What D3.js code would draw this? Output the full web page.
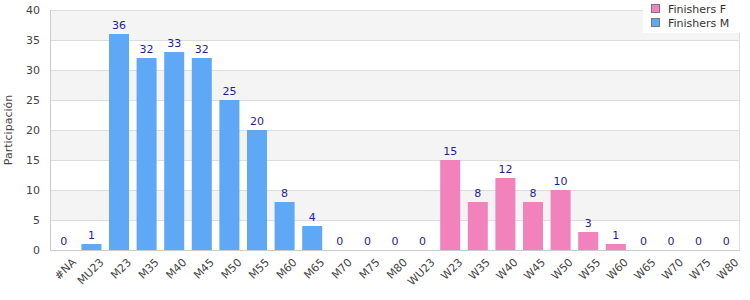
<!DOCTYPE html>
<html>
<head>
<meta charset="utf-8">
<script src="https://cdn.jsdelivr.net/npm/d3@7"></script>
<style>
  body { margin: 0; background: #fff; }
  svg text { font-family: "DejaVu Sans", Verdana, sans-serif; }
</style>
</head>
<body>
<svg id="chart" width="750" height="300"></svg>
<script>
const categories = ["#NA","MU23","M23","M35","M40","M45","M50","M55","M60","M65","M70","M75","M80",
  "WU23","W23","W35","W40","W45","W50","W55","W60","W65","W70","W75","W80"];
const finishersM = [0,1,36,32,33,32,25,20,8,4,0,0,0, 0,0,0,0,0,0,0,0,0,0,0,0];
const finishersF = [0,0,0,0,0,0,0,0,0,0,0,0,0, 0,15,8,12,8,10,3,1,0,0,0,0];
const yTicks = [0,5,10,15,20,25,30,35,40];

const W = 750, H = 300;
const m = { left: 50, right: 10, top: 10, bottom: 50 };
const iw = W - m.left - m.right, ih = H - m.top - m.bottom;

const svg = d3.select("#chart");
const g = svg.append("g").attr("transform", `translate(${m.left},${m.top})`);

const x = d3.scaleBand().domain(categories).range([0, iw]).paddingInner(0.275).paddingOuter(0.1375);
const y = d3.scaleLinear().domain([0, 40]).range([ih, 0]);

// Bandas alternas
for (let i = 0; i < yTicks.length - 1; i++) {
  if (i % 2 === 1) {
    g.append("rect")
      .attr("x", 0).attr("width", iw)
      .attr("y", y(yTicks[i + 1])).attr("height", y(yTicks[i]) - y(yTicks[i + 1]))
      .attr("fill", "#f4f4f4");
  }
}

// Rejilla
g.selectAll(".grid").data(yTicks).enter().append("line")
  .attr("x1", 0).attr("x2", iw)
  .attr("y1", d => y(d) + 0.5).attr("y2", d => y(d) + 0.5)
  .attr("stroke", "#dddddd");

g.append("rect").attr("x", 0.5).attr("y", 0.5).attr("width", iw - 1).attr("height", ih)
  .attr("fill", "none").attr("stroke", "#dddddd");

// Barras
const rows = categories.map((c, i) => ({ c, m: finishersM[i], f: finishersF[i] }));

g.selectAll(".barM").data(rows.filter(d => d.m > 0)).enter().append("rect")
  .attr("x", d => x(d.c)).attr("width", x.bandwidth())
  .attr("y", d => y(d.m)).attr("height", d => y(0) - y(d.m))
  .attr("fill", "#5fa8f5");

g.selectAll(".barF").data(rows.filter(d => d.f > 0)).enter().append("rect")
  .attr("x", d => x(d.c)).attr("width", x.bandwidth())
  .attr("y", d => y(d.m + d.f)).attr("height", d => y(0) - y(d.f))
  .attr("fill", "#f282bb");

// Ejes
g.append("line").attr("x1", 0).attr("x2", iw).attr("y1", ih + 0.5).attr("y2", ih + 0.5)
  .attr("stroke", "#cccccc");
g.append("line").attr("x1", 0.5).attr("x2", 0.5).attr("y1", 0).attr("y2", ih)
  .attr("stroke", "#cccccc");

// Etiquetas de valor
g.selectAll(".val").data(rows).enter().append("text")
  .attr("x", d => x(d.c) + x.bandwidth() / 2)
  .attr("y", d => y(d.m + d.f) - 5)
  .attr("text-anchor", "middle")
  .attr("font-size", 11)
  .attr("fill", "#1f1f8f")
  .text(d => d.m + d.f);

// Eje Y
const yAxis = g.append("g").call(d3.axisLeft(y).tickValues(yTicks).tickSize(0).tickPadding(10));
yAxis.select(".domain").remove();
yAxis.selectAll("text").attr("font-size", 11).attr("fill", "#444").style("font-family", "DejaVu Sans, sans-serif");

svg.append("text")
  .attr("transform", `translate(8,${m.top + ih / 2}) rotate(-90)`)
  .attr("text-anchor", "middle")
  .attr("dy", "0.35em")
  .attr("font-size", 11)
  .attr("fill", "#444")
  .text("Participación");

// Eje X
const xAxis = g.append("g").attr("transform", `translate(0,${ih})`)
  .call(d3.axisBottom(x).tickSize(0).tickPadding(6));
xAxis.select(".domain").remove();
xAxis.selectAll("text")
  .attr("font-size", 11).attr("fill", "#444")
  .style("font-family", "DejaVu Sans, sans-serif")
  .attr("text-anchor", "end")
  .attr("dy", "0.35em")
  .attr("transform", "translate(6,6) rotate(-45)");

// Leyenda
const leg = svg.append("g").attr("transform", "translate(643,0)");
leg.append("rect").attr("width", 97).attr("height", 33).attr("fill", "#fff");
const legItems = [{ name: "Finishers F", color: "#f282bb" }, { name: "Finishers M", color: "#5fa8f5" }];
legItems.forEach((it, i) => {
  leg.append("rect").attr("x", 8.5).attr("y", 4.5 + i * 14).attr("width", 8).attr("height", 8)
    .attr("fill", it.color).attr("stroke", "#777");
  leg.append("text").attr("x", 25).attr("y", 9 + i * 14).attr("dy", "0.35em")
    .attr("font-size", 11).attr("fill", "#333").text(it.name);
});
</script>
</body>
</html>
